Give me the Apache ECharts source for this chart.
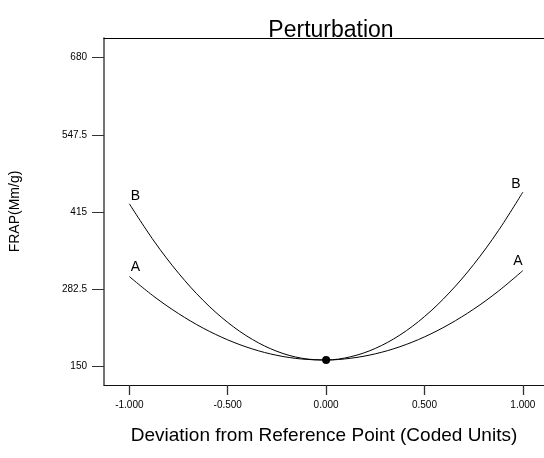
<!DOCTYPE html>
<html>
<head>
<meta charset="utf-8">
<script src="https://cdn.jsdelivr.net/npm/echarts@6/dist/echarts.min.js"></script>
<style>
html,body{margin:0;padding:0;background:#fff;}
#c{width:544px;height:458px;}
</style>
</head>
<body>
<div id="c"></div>
<script>
// Data
const xValues = [-1, -0.875, -0.75, -0.625, -0.5, -0.375, -0.25, -0.125, 0, 0.125, 0.25, 0.375, 0.5, 0.625, 0.75, 0.875, 1];
const seriesA = [303.7, 269.5, 240.0, 215.1, 194.9, 179.3, 168.3, 162.0, 160.3, 163.3, 170.9, 183.1, 200.0, 221.6, 247.7, 278.5, 314.0];
const seriesB = [428.8, 364.8, 309.5, 262.8, 224.9, 195.7, 175.2, 163.4, 160.3, 165.9, 180.2, 203.2, 234.9, 275.4, 324.5, 382.4, 448.9];
const refPoint = [0, 160.3];
const xTicks = [-1, -0.5, 0, 0.5, 1];
const yTicks = [150, 282.5, 415, 547.5, 680];
const seriesNames = ['A', 'B'];

const FONT = 'Liberation Sans, Arial, sans-serif';
const last = xValues.length - 1;

function buildData(vals, offL, offR) {
  return xValues.map((x, i) => {
    const item = { value: [x, vals[i]] };
    if (i === 0 || i === last) {
      item.label = { show: true, offset: i === 0 ? offL : offR };
    }
    return item;
  });
}

function lineSeries(name, vals, offL, offR) {
  return {
    name: name,
    type: 'line',
    smooth: 0.35,
    symbol: 'circle',
    symbolSize: 1,
    showSymbol: true,
    itemStyle: { color: 'rgba(0,0,0,0)' },
    lineStyle: { color: '#000', width: 1 },
    label: {
      show: false,
      position: 'inside',
      formatter: name,
      color: '#000',
      fontFamily: FONT,
      fontSize: 14
    },
    emphasis: { disabled: true },
    data: buildData(vals, offL, offR)
  };
}

const chart = echarts.init(document.getElementById('c'), null, { renderer: 'canvas' });
chart.setOption({
  animation: false,
  backgroundColor: '#fff',
  title: {
    text: 'Perturbation',
    left: 326,
    textAlign: 'center',
    top: 14,
    textStyle: { fontFamily: FONT, fontSize: 23, fontWeight: 'normal', color: '#000' }
  },
  grid: { left: 103, top: 38, right: 0, bottom: 73 },
  xAxis: [{
    type: 'value',
    min: -1.129,
    max: 1.1075,
    position: 'bottom',
    axisLine: { show: true, onZero: false, lineStyle: { color: '#111', width: 1.2 } },
    axisTick: { show: true, length: 10, customValues: xTicks, lineStyle: { color: '#333', width: 1.3 } },
    axisLabel: {
      show: true, customValues: xTicks, margin: 15,
      formatter: v => v.toFixed(3),
      fontFamily: FONT, fontSize: 10, color: '#000'
    },
    splitLine: { show: false },
    name: 'Deviation from Reference Point (Coded Units)',
    nameLocation: 'middle',
    nameGap: 41,
    nameTextStyle: { fontFamily: FONT, fontSize: 19, color: '#000' }
  }, {
    type: 'value',
    min: -1.129,
    max: 1.1075,
    position: 'top',
    axisLine: { show: true, onZero: false, lineStyle: { color: '#000', width: 1.2 } },
    axisTick: { show: false },
    axisLabel: { show: false },
    splitLine: { show: false }
  }],
  yAxis: {
    type: 'value',
    min: 117.3,
    max: 713.9,
    axisLine: { show: true, onZero: false, lineStyle: { color: '#444', width: 1.5 } },
    axisTick: { show: true, length: 12, customValues: yTicks, lineStyle: { color: '#333', width: 1 } },
    axisLabel: {
      show: true, customValues: yTicks, margin: 17,
      formatter: v => String(v),
      fontFamily: FONT, fontSize: 10, color: '#000'
    },
    splitLine: { show: false },
    name: 'FRAP(Mm/g)',
    nameLocation: 'middle',
    nameGap: 82,
    nameRotate: 90,
    nameTextStyle: { fontFamily: FONT, fontSize: 14, color: '#000' }
  },
  series: [
    lineSeries(seriesNames[0], seriesA, [6, -9], [-5, -9]),
    lineSeries(seriesNames[1], seriesB, [6, -8], [-7, -8]),
    {
      type: 'scatter',
      symbol: 'circle',
      symbolSize: 8,
      itemStyle: { color: '#000', opacity: 1 },
      emphasis: { disabled: true },
      data: [refPoint],
      z: 5
    }
  ]
});
</script>
</body>
</html>
